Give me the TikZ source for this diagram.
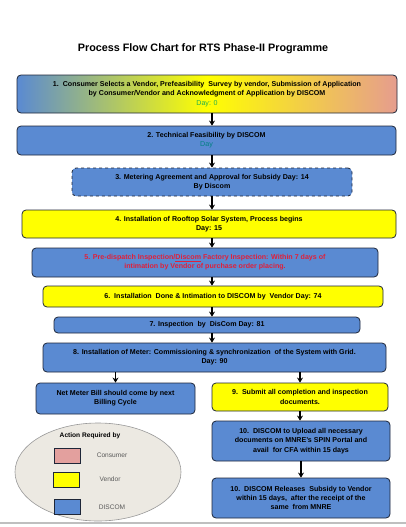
\documentclass[tikz,border=0pt]{standalone}
\usepackage{fontspec}
\setmainfont{Liberation Sans}
\usetikzlibrary{arrows.meta}
\definecolor{discomblue}{HTML}{5A8AD2}
\definecolor{vendoryellow}{HTML}{FFFF00}
\definecolor{consumerpink}{HTML}{E3A09E}
\definecolor{boxline}{HTML}{1E2638}
\definecolor{ovalfill}{HTML}{ECE9E2}
\definecolor{daygreen}{HTML}{22B14C}
\definecolor{redtext}{HTML}{E0203A}
\begin{document}
\begin{tikzpicture}[x=1pt,y=-1pt,
  flowbox/.style={draw=boxline,line width=0.8pt,rounded corners=4pt,align=center,
    inner sep=1pt,font=\fontsize{7.1}{9.3}\selectfont\bfseries},
  blue box/.style={flowbox,fill=discomblue},
  yellow box/.style={flowbox,fill=vendoryellow},
  arr/.style={-{Stealth[length=5pt,width=6pt]},line width=1.3pt},
  keybox/.style={draw=boxline,line width=0.8pt,minimum width=26pt,minimum height=15pt},
  keytext/.style={text=gray!70!black,font=\fontsize{6.6}{8}\selectfont}]
\useasboundingbox (0,0) rectangle (406,527);
\node[font=\fontsize{10.8}{12}\selectfont\bfseries] (title) at (203,49) {Process Flow Chart for RTS Phase-II Programme};

% main chain
\node[flowbox,left color=discomblue,right color=consumerpink!90!orange,middle color=vendoryellow,
  minimum width=380pt,minimum height=38pt] (b1) at (207,94)
  {1.\ \ Consumer Selects a Vendor, Prefeasibility\ \ Survey by vendor, Submission of Application\\
   by Consumer/Vendor and Acknowledgment of Application by DISCOM\\
   \textcolor{daygreen}{\mdseries Day: 0}};
\node[blue box,minimum width=379pt,minimum height=29pt] (b2) at (206.5,140.5)
  {2. Technical Feasibility by DISCOM\\ \textcolor{teal}{\mdseries Day}};
\node[blue box,dashed,minimum width=280pt,minimum height=28pt] (b3) at (212,182)
  {3. Metering Agreement and Approval for Subsidy Day: 14\\ By Discom};
\node[yellow box,minimum width=374pt,minimum height=28pt] (b4) at (209,224)
  {4. Installation of Rooftop Solar System, Process begins\\ Day: 15};
\node[blue box,text=redtext,minimum width=346pt,minimum height=29pt] (b5) at (205,262.5)
  {5. Pre-dispatch Inspection/\underline{Discom} Factory Inspection: Within 7 days of\\
   intimation by Vendor of purchase order placing.};
\node[yellow box,minimum width=340pt,minimum height=21pt] (b6) at (213,296.5)
  {6.\ \ Installation\ \ Done \& Intimation to DISCOM by\ \ Vendor Day: 74};
\node[blue box,minimum width=306pt,minimum height=16pt] (b7) at (207,325)
  {7. Inspection\ \ by\ \ DisCom Day: 81};
\node[blue box,minimum width=343pt,minimum height=29pt] (b8) at (214.5,357.5)
  {8. Installation of Meter: Commissioning \& synchronization\ \ of the System with Grid.\\ Day: 90};

% two branches
\node[blue box,minimum width=159pt,minimum height=31pt] (nm) at (115.5,398.5)
  {Net Meter Bill should come by next\\ Billing Cycle};
\node[yellow box,minimum width=176pt,minimum height=28pt] (b9) at (300,397)
  {9.\ \ Submit all completion and inspection\\ documents.};
\node[blue box,minimum width=178pt,minimum height=40pt] (b10) at (301,441)
  {10.\ \ DISCOM to Upload all necessary\\ documents on MNRE's SPIN Portal and\\ avail\ \ for CFA within 15 days};
\node[blue box,minimum width=178pt,minimum height=40pt] (b11) at (301,498)
  {10.\ \ DISCOM Releases\ \ Subsidy to Vendor\\ within 15 days,\ \ after the receipt of the\\ same\ \ from MNRE};

\draw[arr] (b1.south -| b3.north) -- (b2.north -| b3.north);
\draw[arr] (b2.south -| b3.north) -- (b3.north);
\draw[arr] (b3.south) -- (b4.north -| b3.south);
\draw[arr] (b4.south -| b3.south) -- (b5.north -| b3.south);
\draw[arr] (b5.south -| b3.south) -- (b6.north -| b3.south);
\draw[arr] (b6.south -| b3.south) -- (b7.north -| b3.south);
\draw[arr] (b7.south -| b3.south) -- (b8.north -| b3.south);
\draw[arr] (b8.south -| nm.north) -- (nm.north);
\draw[arr] (b8.south -| b9.north) -- (b9.north);
\draw[arr] (b9.south) -- (b10.north -| b9.south);
\draw[arr] (b10.south) -- (b11.north);

% legend
\draw[draw=gray!80,fill=ovalfill,line width=0.6pt] (98,472) ellipse [x radius=83pt,y radius=49pt];
\node[font=\fontsize{6.6}{8}\selectfont\bfseries] (keytitle) at (90,436) {Action Required by};
\node[keybox,fill=consumerpink] (kc) at (67,455.5) {};
\node[keybox,fill=vendoryellow] (kv) at (66,479.5) {};
\node[keybox,fill=discomblue] (kd) at (67,506.5) {};
\node[keytext] (lc) at (112,455) {Consumer};
\node[keytext] (lv) at (110,479) {Vendor};
\node[keytext] (ld) at (112,507) {DISCOM};

\draw[gray!50,line width=1.5pt] (0,523) -- (406,523);
\end{tikzpicture}
\end{document}
